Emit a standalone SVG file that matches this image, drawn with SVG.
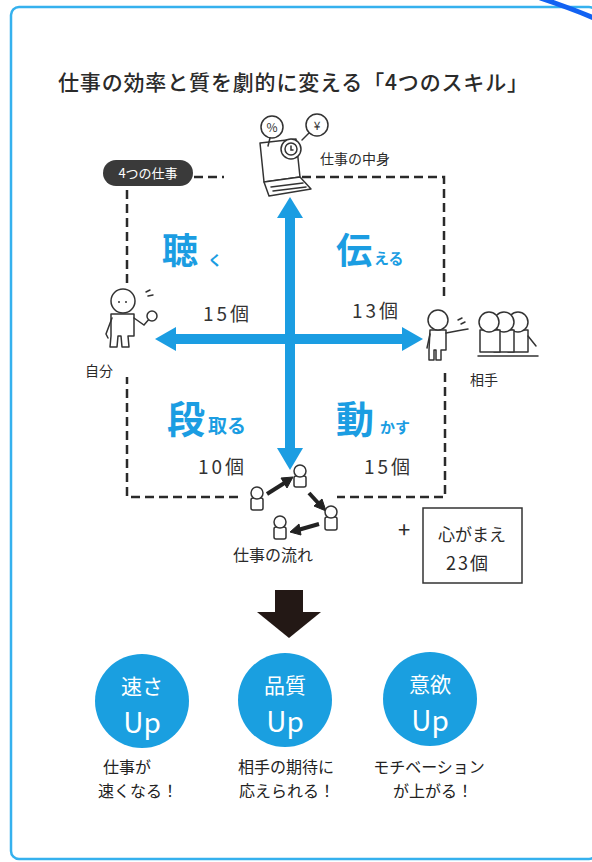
<svg xmlns="http://www.w3.org/2000/svg" width="592" height="862" viewBox="0 0 592 862">
  <defs>
    <style>
      .jp { font-family: "Noto Sans CJK JP", "Noto Sans", sans-serif; }
      .ink { fill: #2a2a2a; }
      .skill { font-family: "Noto Sans CJK JP", sans-serif; font-weight: 700; fill: #1b9de2; }
      .count { font-family: "Noto Sans CJK JP", sans-serif; font-size: 19px; fill: #333; letter-spacing: 3px; }
      .cap { font-family: "Noto Sans CJK JP", sans-serif; font-size: 16px; fill: #222; }
      .dash { fill: none; stroke: #2a2a2a; stroke-width: 2.5; stroke-dasharray: 9 5; }
      .fig { fill: #fff; stroke: #333; stroke-width: 1.5; stroke-linejoin: round; stroke-linecap: round; }
      .figline { fill: none; stroke: #333; stroke-width: 1.5; stroke-linecap: round; }
      .circleTxt { font-family: "Noto Sans CJK JP", sans-serif; fill: #fff; text-anchor: middle; }
    </style>
  </defs>

  <rect width="592" height="862" fill="#fff"/>
  <!-- outer frame -->
  <rect x="11" y="7" width="586" height="852" rx="8" fill="none" stroke="#35b1ee" stroke-width="2.5"/>
  <path d="M540,-2 Q570,8 594,18" fill="none" stroke="#1262f2" stroke-width="5"/>

  <!-- title -->
  <text id="title" class="jp ink" x="58" y="90" font-size="21" font-weight="500" textLength="470" lengthAdjust="spacing">仕事の効率と質を劇的に変える「4つのスキル」</text>

  <!-- dashed frame around the four skills -->
  <g id="connectors">
    <path class="dash" d="M194,177 H224"/>
    <path class="dash" d="M288,177 H444 V297"/>
    <path class="dash" d="M445,373 V497 H337"/>
    <path class="dash" d="M238,497 H127 V377"/>
    <path class="dash" d="M127,283 V187"/>

    <!-- blue cross arrows -->
    <g fill="#1b9de2">
      <rect x="285" y="214" width="10" height="236"/>
      <polygon points="290,197 277,218 303,218"/>
      <polygon points="290,470 277,448 303,448"/>
      <rect x="172" y="334" width="234" height="10"/>
      <polygon points="155,339 176,327 176,351"/>
      <polygon points="423,339 402,327 402,351"/>
    </g>

    <!-- work flow arrows -->
    <g stroke="#222" stroke-width="4" fill="#222">
      <line x1="267" y1="494" x2="286" y2="482"/>
      <polygon points="293,477 281,478 287,488" stroke-width="1"/>
      <line x1="309" y1="493" x2="320" y2="505"/>
      <polygon points="326,511 314,506 322,499" stroke-width="1"/>
      <line x1="319" y1="524" x2="298" y2="530"/>
      <polygon points="290,532 299,524 301,535" stroke-width="1"/>
    </g>

    <!-- result arrow -->
    <g fill="#231815">
      <rect x="275" y="590" width="28" height="23"/>
      <polygon points="257,612 321,612 289,638"/>
    </g>
  </g>

  <!-- pill label -->
  <g id="node-tasks">
    <rect x="103" y="160" width="90" height="26" rx="13" fill="#3a3a3a"/>
    <text class="jp" x="148" y="178" font-size="13" fill="#fff" text-anchor="middle">4つの仕事</text>
  </g>

  <!-- laptop: the content of the work -->
  <g id="node-content">
    <polygon class="fig" points="260,143 296,139 300,177 264,182"/>
    <polygon class="fig" points="264,182 300,177 311,189 269,196"/>
    <line class="figline" x1="271" y1="187" x2="303" y2="183"/>
    <line class="figline" x1="273" y1="191" x2="306" y2="187"/>
    <circle class="fig" cx="291" cy="149" r="10"/>
    <circle class="fig" cx="291" cy="149" r="6"/>
    <path class="figline" d="M291,146 V150 H293"/>
    <circle class="fig" cx="272" cy="127" r="11"/>
    <path class="figline" d="M270,138 L268,146"/>
    <text class="jp" x="272" y="132" font-size="12" fill="#333" text-anchor="middle">%</text>
    <circle class="fig" cx="317" cy="125" r="11"/>
    <path class="figline" d="M309,133 L302,140"/>
    <text class="jp" x="317" y="130" font-size="12" fill="#333" text-anchor="middle">¥</text>
    <text class="jp ink" x="320" y="164" font-size="14">仕事の中身</text>
  </g>

  <!-- self -->
  <g id="node-self">
    <path class="fig" d="M112,314 H134 V336 H128 L129,347 H122 L121,336 H118 L117,347 H110 L111,336 V314 Z"/>
    <path class="figline" d="M112,318 L106,334 L108,338"/>
    <path class="figline" d="M134,318 L144,325 L150,318"/>
    <circle class="fig" cx="152" cy="316" r="5"/>
    <circle class="fig" cx="123" cy="301" r="12"/>
    <circle cx="119" cy="302" r="1" fill="#333"/>
    <circle cx="126" cy="302" r="1" fill="#333"/>
    <path class="figline" d="M146,292 L150,290 M148,296 L153,295"/>
    <text class="jp ink" x="85" y="376" font-size="14">自分</text>
  </g>

  <!-- others -->
  <g id="node-others">
    <path class="fig" d="M430,330 H446 V350 H441 V360 H436 V350 H434 V360 H429 V350 Z"/>
    <path class="figline" d="M446,333 L462,330 L468,329"/>
    <path class="figline" d="M430,334 L427,348"/>
    <circle class="fig" cx="438" cy="320" r="10"/>
    <path class="figline" d="M458,320 L462,318 M461,324 L465,322"/>
    <g>
      <path class="fig" d="M508,330 H528 V352 H508 Z"/>
      <path class="figline" d="M528,336 L536,346"/>
      <circle class="fig" cx="518" cy="322" r="10"/>
      <path class="fig" d="M494,330 H514 V352 H494 Z"/>
      <circle class="fig" cx="504" cy="322" r="10"/>
      <path class="fig" d="M480,330 H500 V352 H480 Z"/>
      <circle class="fig" cx="489" cy="322" r="10"/>
      <path class="figline" d="M478,356 H538"/>
    </g>
    <text class="jp ink" x="470" y="385" font-size="14">相手</text>
  </g>

  <!-- four skills -->
  <g id="node-listen">
    <text class="skill" x="162" y="264" font-size="36">聴</text>
    <text class="skill" x="208" y="265" font-size="14">く</text>
    <text class="count" x="203" y="321">15個</text>
  </g>
  <g id="node-tell">
    <text class="skill" x="336" y="264" font-size="36">伝</text>
    <text class="skill" x="374" y="264" font-size="15">える</text>
    <text class="count" x="352" y="318">13個</text>
  </g>
  <g id="node-plan">
    <text class="skill" x="167" y="433" font-size="38">段</text>
    <text class="skill" x="208" y="433" font-size="19">取る</text>
    <text class="count" x="198" y="474">10個</text>
  </g>
  <g id="node-move">
    <text class="skill" x="336" y="433" font-size="38">動</text>
    <text class="skill" x="380" y="433" font-size="15">かす</text>
    <text class="count" x="364" y="474">15個</text>
  </g>

  <!-- work flow -->
  <g id="node-flow">
    <g>
      <rect class="fig" x="294" y="476" width="12" height="11" rx="2"/>
      <circle class="fig" cx="300" cy="471" r="6"/>
      <rect class="fig" x="251" y="498" width="12" height="12" rx="2"/>
      <circle class="fig" cx="257" cy="493" r="6"/>
      <rect class="fig" x="325" y="517" width="12" height="13" rx="2"/>
      <circle class="fig" cx="331" cy="512" r="6"/>
      <rect class="fig" x="274" y="527" width="12" height="12" rx="2"/>
      <circle class="fig" cx="280" cy="522" r="6"/>
    </g>
    <text class="jp ink" x="233" y="561" font-size="16">仕事の流れ</text>
  </g>

  <!-- mindset -->
  <g id="node-mindset">
    <text class="jp ink" x="404" y="538" font-size="22" text-anchor="middle">+</text>
    <rect x="423" y="508" width="99" height="75" fill="#fff" stroke="#333" stroke-width="1.5"/>
    <text class="jp ink" x="472" y="541" font-size="17" text-anchor="middle">心がまえ</text>
    <text class="jp ink" x="468" y="570" font-size="18" text-anchor="middle" letter-spacing="2">23個</text>
  </g>

  <!-- results -->
  <g id="node-speed">
    <circle cx="142" cy="701" r="47" fill="#1a9fe0"/>
    <text class="circleTxt" x="142" y="694" font-size="21">速さ</text>
    <text class="circleTxt" x="142" y="733" font-size="28">Up</text>
    <text class="cap" x="103" y="773">仕事が</text>
    <text class="cap" x="98" y="797">速くなる！</text>
  </g>
  <g id="node-quality">
    <circle cx="285" cy="700" r="47" fill="#1a9fe0"/>
    <text class="circleTxt" x="285" y="693" font-size="21">品質</text>
    <text class="circleTxt" x="285" y="732" font-size="28">Up</text>
    <text class="cap" x="286" y="773" text-anchor="middle">相手の期待に</text>
    <text class="cap" x="287" y="797" text-anchor="middle">応えられる！</text>
  </g>
  <g id="node-motivation">
    <circle cx="430" cy="699" r="47" fill="#1a9fe0"/>
    <text class="circleTxt" x="430" y="692" font-size="21">意欲</text>
    <text class="circleTxt" x="430" y="731" font-size="28">Up</text>
    <text class="cap" x="429" y="773" text-anchor="middle">モチベーション</text>
    <text class="cap" x="433" y="797" text-anchor="middle">が上がる！</text>
  </g>
</svg>
